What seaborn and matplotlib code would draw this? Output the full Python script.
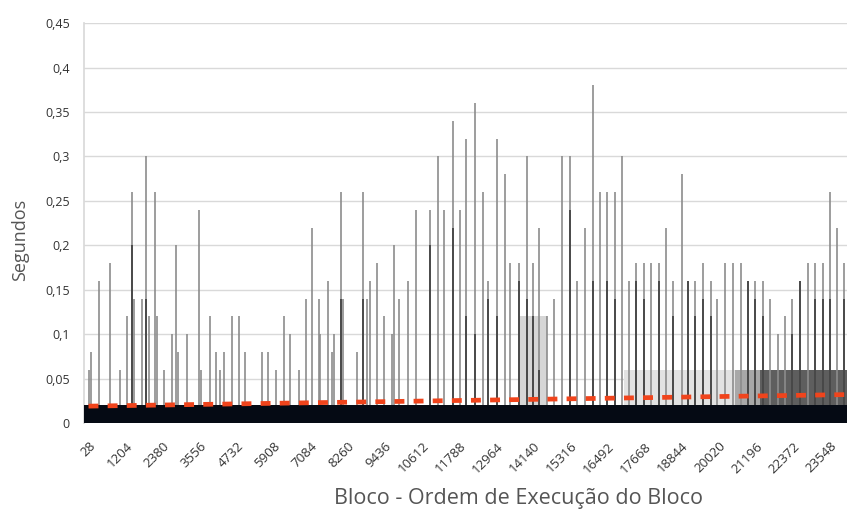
import numpy as np
import pandas as pd
import seaborn as sns
import matplotlib.pyplot as plt

sns.set_theme(style="whitegrid")
plt.rcParams['font.family'] = ['Open Sans', 'DejaVu Sans']

# tall spikes (block number, seconds)
spike_block = [40, 114, 355, 725, 1020, 1255, 1413, 1464, 1730, 1867, 1940, 2130, 2206,
               2415, 2681, 2818, 2859, 3157, 3525, 3601, 3873, 4086, 4212, 4317, 4583,
               4793, 5005, 5534, 5712, 5988, 6219, 6431, 6695, 6939, 7119, 7329, 7382,
               7626, 7753, 7804, 8039, 8102, 8546, 8736, 8863, 8945, 9180, 9389, 9655,
               9706, 9865, 10150, 10426, 10869, 11101, 11313, 11589, 11820, 12011, 12274,
               12527, 12698, 12984, 13225, 13405, 13669, 13935, 14125, 14334, 14569, 14810,
               15044, 15307, 15520, 15783, 16027, 16258, 16490, 16734, 16965, 17187, 17400,
               17653, 17875, 18129, 18351, 18582, 18848, 19058, 19279, 19533, 19768, 19977,
               20221, 20465, 20719, 20940, 21172, 21416, 21647, 21911, 22123, 22335, 22598,
               22842, 23074, 23318, 23549, 23781, 23993]
spike_sec = [0.06, 0.08, 0.16, 0.18, 0.06, 0.12, 0.26, 0.14, 0.14, 0.30, 0.12, 0.26, 0.12,
             0.06, 0.10, 0.20, 0.08, 0.10, 0.24, 0.06, 0.12, 0.08, 0.06, 0.08, 0.12,
             0.12, 0.08, 0.08, 0.08, 0.06, 0.12, 0.10, 0.06, 0.14, 0.22, 0.14, 0.10,
             0.16, 0.08, 0.10, 0.26, 0.14, 0.08, 0.26, 0.14, 0.16, 0.18, 0.12, 0.10,
             0.20, 0.14, 0.16, 0.24, 0.24, 0.30, 0.24, 0.34, 0.24, 0.32, 0.36,
             0.26, 0.16, 0.32, 0.28, 0.18, 0.18, 0.30, 0.18, 0.22, 0.12, 0.14,
             0.30, 0.30, 0.16, 0.22, 0.38, 0.26, 0.26, 0.26, 0.30, 0.16, 0.18,
             0.18, 0.18, 0.18, 0.22, 0.16, 0.28, 0.16, 0.16, 0.18, 0.16, 0.14,
             0.18, 0.18, 0.18, 0.16, 0.16, 0.16, 0.14, 0.10, 0.12, 0.14, 0.16,
             0.18, 0.18, 0.18, 0.26, 0.22, 0.18]

# darker, shorter spikes
inner_block = [1413, 1867, 8039, 8736, 10869, 11589, 12011, 12274, 12698, 12984, 13669,
               13935, 14125, 14334, 15307, 16027, 16490, 16734, 17400, 17653, 18129, 18582,
               19058, 19279, 19533, 19768, 20940, 21172, 21416, 22335, 22598, 23074, 23318,
               23549, 23993]
inner_sec = [0.20, 0.14, 0.14, 0.14, 0.20, 0.22, 0.12, 0.10, 0.14, 0.12, 0.16,
             0.14, 0.12, 0.06, 0.24, 0.16, 0.16, 0.14, 0.16, 0.14, 0.16, 0.12,
             0.16, 0.12, 0.14, 0.12, 0.16, 0.14, 0.12, 0.10, 0.16, 0.14, 0.14,
             0.14, 0.14]

# grey bands of dense bars
band_start = [13700, 17000, 20540, 21330]
band_end = [14570, 20540, 21330, 24090]
band_sec = [0.12, 0.06, 0.06, 0.06]

# dense black floor
floor_block = [-120, 24090]
floor_sec = [0.02, 0.02]

# linear trend line
trend_block = [28, 24090]
trend_sec = [0.019, 0.032]

tick_labels = [28, 1204, 2380, 3556, 4732, 5908, 7084, 8260, 9436, 10612, 11788, 12964,
               14140, 15316, 16492, 17668, 18844, 20020, 21196, 22372, 23548]

fig = plt.figure(figsize=(8.47, 5.14), dpi=100)
ax = fig.add_axes([0.099, 0.177, 0.901, 0.778])

band_colors = ["#d6d6d6", "#e2e2e2", "#a8a8a8", "#5e5e5e"]
for s, e, v, c in zip(band_start, band_end, band_sec, band_colors):
    ax.fill_between([s, e], [0, 0], [v, v], color=c, lw=0, zorder=2)

ax.vlines(spike_block, 0, spike_sec, color="#8c8c8c", lw=1.2, zorder=3)
ax.vlines(inner_block, 0, inner_sec, color="#3c3c3c", lw=1.2, zorder=4)
ax.fill_between(floor_block, [0, 0], floor_sec, color="#050a14", lw=0, zorder=5)

trend = pd.DataFrame({"block": trend_block, "sec": trend_sec})
sns.lineplot(data=trend, x="block", y="sec", ax=ax, color="#f0441c", lw=3.4,
             dashes=False, zorder=6)
ax.lines[-1].set_dashes([2.1, 1.95])

ax.set_xlim(-120, 24090)
ax.set_ylim(0, 0.45)
yt = np.arange(0, 0.451, 0.05)
ax.set_yticks(yt)
ax.set_yticklabels(["0"] + [f"{v:.2f}".rstrip("0").replace(".", ",") for v in yt[1:]],
                   fontsize=9, color="#333333")
ax.set_xticks(tick_labels)
ax.set_xticklabels([str(t) for t in tick_labels], rotation=45, ha="right",
                   rotation_mode="anchor", fontsize=9.5, color="#333333")
ax.tick_params(axis="x", length=0, pad=12)
ax.tick_params(axis="y", length=0, pad=10)
ax.grid(axis="y", color="#d9d9d9", lw=1)
ax.grid(axis="x", visible=False)
for side in ["top", "right", "bottom"]:
    ax.spines[side].set_visible(False)
ax.spines["left"].set_color("#d9d9d9")

ax.set_xlabel("Bloco - Ordem de Execução do Bloco", fontsize=15.5, color="#555555")
ax.set_ylabel("Segundos", fontsize=13, color="#555555")
ax.xaxis.set_label_coords(0.570, -0.162)
ax.yaxis.set_label_coords(-0.072, 0.4575)

fig.savefig("out.png", dpi=100)
